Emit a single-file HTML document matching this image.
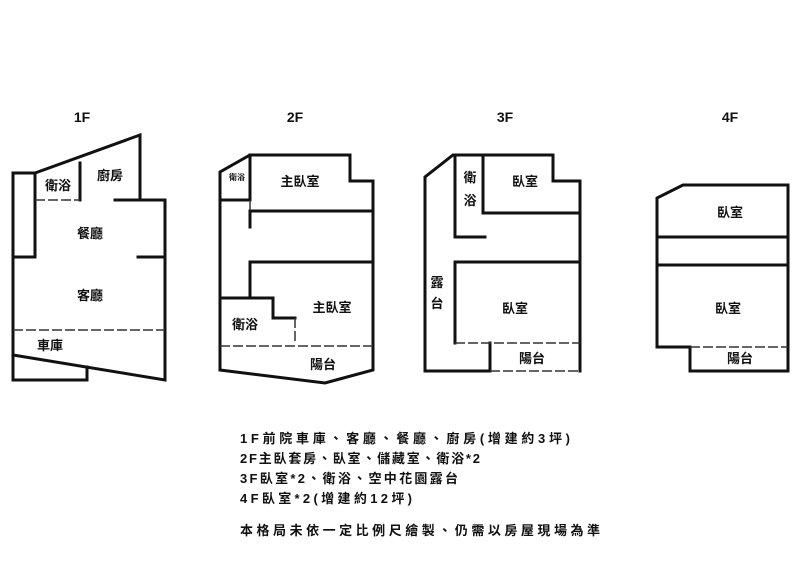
<!DOCTYPE html>
<html><head><meta charset="utf-8"><style>
html,body{margin:0;padding:0;background:#fff}
svg{display:block}
text{font-family:"Liberation Sans","Noto Sans CJK TC",sans-serif;font-weight:bold;fill:#111}
</style></head><body>
<svg width="800" height="565" viewBox="0 0 800 565" xmlns="http://www.w3.org/2000/svg">
<g font-size="14" text-anchor="middle">
<text x="82" y="122">1F</text><text x="295" y="122">2F</text><text x="505" y="122">3F</text><text x="730" y="122">4F</text>
</g>
<g stroke="#111" stroke-width="3" fill="none" stroke-linecap="square">
<!-- 1F -->
<polyline points="35,257 13,257 13,173 35,173 140,135 140,200"/>
<line x1="35" y1="173" x2="35" y2="257"/>
<polyline points="13,257 13,380 87,380 87,367"/>
<polyline points="115,200 165,200 165,380 13,355"/>
<line x1="80" y1="163" x2="80" y2="200"/>
<line x1="138" y1="257" x2="165" y2="257"/>
<!-- 2F -->
<polyline points="220,298 220,172 250,155 350,155 350,181 373,181 373,370 325,383 220,370 220,298"/>
<line x1="220" y1="200" x2="250" y2="200"/>
<line x1="250" y1="155" x2="250" y2="200"/>
<line x1="250" y1="211" x2="373" y2="211"/>
<line x1="250" y1="211" x2="250" y2="227"/>
<line x1="250" y1="262" x2="373" y2="262"/>
<line x1="250" y1="262" x2="250" y2="298"/>
<polyline points="220,298 273,298 273,318 295,318"/>
<!-- 3F -->
<polyline points="490,371 425,371 425,177 453,155 553,155 553,181 580,181 580,371"/>
<line x1="455" y1="155" x2="455" y2="237"/>
<line x1="483" y1="155" x2="483" y2="212"/>
<line x1="455" y1="237" x2="485" y2="237"/>
<line x1="483" y1="213" x2="580" y2="213"/>
<line x1="455" y1="262" x2="580" y2="262"/>
<line x1="455" y1="262" x2="455" y2="343"/>
<line x1="490" y1="343" x2="490" y2="371"/>
<!-- 4F -->
<polyline points="690,371 690,347 657,347 657,198 683,185 788,185 788,371 690,371"/>
<line x1="657" y1="237" x2="788" y2="237"/>
<line x1="657" y1="265" x2="788" y2="265"/>
</g>
<g stroke="#333" stroke-width="1.5" fill="none" stroke-dasharray="10,3">
<line x1="13" y1="330" x2="165" y2="330"/>
<line x1="35" y1="200" x2="80" y2="200"/>
<line x1="220" y1="346" x2="373" y2="346"/>
<line x1="295" y1="318" x2="295" y2="343"/>
<line x1="250" y1="200" x2="250" y2="211"/>
<line x1="455" y1="343" x2="580" y2="343"/>
<line x1="490" y1="371" x2="580" y2="371"/>
<line x1="690" y1="347" x2="788" y2="347"/>
</g>
<g font-size="13" text-anchor="middle">
<text x="58" y="190">衛浴</text><text x="110" y="180" fill="#223">廚房</text>
<text x="90" y="238">餐廳</text><text x="90" y="300">客廳</text><text x="50" y="350">車庫</text>
<text x="237" y="180" font-size="8">衛浴</text>
<text x="300" y="186">主臥室</text><text x="332" y="312">主臥室</text>
<text x="245" y="329">衛浴</text><text x="323" y="369">陽台</text>
<text x="470" y="182">衛</text><text x="470" y="205">浴</text>
<text x="525" y="186">臥室</text>
<text x="437" y="287">露</text><text x="437" y="308">台</text>
<text x="515" y="313">臥室</text><text x="532" y="363">陽台</text>
<text x="730" y="217">臥室</text><text x="728" y="313">臥室</text><text x="740" y="363">陽台</text>
</g>
<g font-size="13">
<text x="240" y="443" textLength="330" lengthAdjust="spacing">1F前院車庫、客廳、餐廳、廚房(增建約3坪)</text>
<text x="240" y="463" textLength="240" lengthAdjust="spacing">2F主臥套房、臥室、儲藏室、衛浴*2</text>
<text x="240" y="483" textLength="218" lengthAdjust="spacing">3F臥室*2、衛浴、空中花園露台</text>
<text x="240" y="503" textLength="172" lengthAdjust="spacing">4F臥室*2(增建約12坪)</text>
<text x="240" y="535" textLength="360" lengthAdjust="spacing">本格局未依一定比例尺繪製、仍需以房屋現場為準</text>
</g>
</svg>
</body></html>
